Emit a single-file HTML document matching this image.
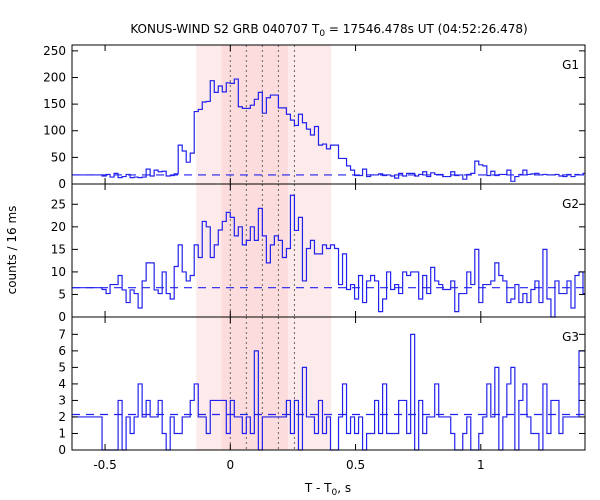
<!DOCTYPE html>
<html><head><meta charset="utf-8"><style>
body{margin:0;background:#fff}
svg{display:block;font-family:"DejaVu Sans","Liberation Sans",sans-serif;font-size:12px}
</style></head><body>
<svg id="chart" width="600" height="500" viewBox="0 0 600 500" xmlns="http://www.w3.org/2000/svg">
<text x="329" y="33" text-anchor="middle">KONUS-WIND S2 GRB 040707 T<tspan font-size="9" dy="3">0</tspan><tspan dy="-3"> = 17546.478s UT (04:52:26.478)</tspan></text>
<text transform="translate(16,250) rotate(-90)" text-anchor="middle">counts / 16 ms</text>
<text x="328" y="492" text-anchor="middle">T - T<tspan font-size="9" dy="3">0</tspan><tspan dy="-3">, s</tspan></text>
<g id="g"></g>
</svg>
<script>
const binStart = -0.512, binWidth = 0.016;
const xTicks = [-0.5, 0, 0.5, 1];
const xTickLabels = ['-0.5', '0', '0.5', '1'];
const dottedTimes = [0, 0.064, 0.128, 0.192, 0.256];
const shadeOuter = [-0.136, 0.403];
const shadeInner = [-0.035, 0.23];
const g1Counts = [15,18,13,20,12,14,18,12,13,12,13,28,15,26,23,24,15,16,19,73,62,41,58,136,140,154,155,194,172,184,173,190,189,197,145,142,142,148,159,172,133,162,167,167,143,143,131,120,110,131,115,103,92,108,73,75,66,
73,73,48,48,34,26,16,16,28,14,17,17,19,16,17,15,11,20,15,20,20,15,18,23,14,21,18,18,14,14,23,16,17,9,18,20,43,36,34,16,24,16,18,18,26,5,14,18,26,18,19,20,17,18,17,17,18,15,14,18,14,18,17,20];
const g2Counts = [6.1,5.2,7.2,7.2,9.2,6,3.2,6,5.2,2,8,12,12,6,5.2,10,5.2,4,11.2,16,10,8,9.2,16,13.2,21.2,20,13.2,16,19.3,21.2,23.2,22.1,18,20,16,17,20,17,24.1,18,12,16,18,17,13.2,15.2,27,19.2,22.1,8,15.2,17,14,14,16,15.2,
16,15.2,7.2,14,6.1,7.2,4,9.2,3.2,8,9.2,8,1.2,4,10,6.1,7.2,5.2,10,9.2,10,10,4,9.2,5.2,11,8,7.2,6.1,6.1,8,1.2,5.2,5.2,10,7.2,15,3.2,7.2,7.2,8,12,9.2,8,3.2,4,7.2,3.2,5.2,3.2,6.1,8,3.2,15,4,0,8,5.2,5.2,8,2,9.2,10,5.2];
const g3Counts = [0,0,0,0,3,0,2,1,2,4,2,3,2,2,3,1,0,2,1,1,2,2,3,4,2,2,1,3,3,3,3,1,3,2,2,1,2,1,6,0,2,2,2,2,2,2,3,1,3,0,5,2,2,1,3,1,2,
0,0,2,4,1,2,1,2,0,1,1,3,1,4,1,1,1,3,3,1,7,0,3,1,2,2,4,2,2,2,1,0,0,1,2,0,0,1,2,4,2,5,0,2,4,5,0,3,4,2,1,1,0,4,1,3,3,1,2,2,2,2,6];
const preLevels = [17, 6.5, 2];
const bgLevels = [17, 6.5, 2.15];
const yTicks = [[0,50,100,150,200,250],[0,5,10,15,20,25],[0,1,2,3,4,5,6,7]];
const yMax = [261, 29.5, 8.05];
const panelNames = ['G1','G2','G3'];

const NS='http://www.w3.org/2000/svg';
const root=document.getElementById('g');
const L=72,R=585;
const tMin=-0.632,tMax=1.416;
const X=t=>L+(t-tMin)/(tMax-tMin)*(R-L);
const panels=[[45,184],[184,317],[317,450]];
function mk(tag,attrs,parent){const e=document.createElementNS(NS,tag);for(const k in attrs)e.setAttribute(k,attrs[k]);(parent||root).appendChild(e);return e;}

let s=mk('rect',{x:X(shadeOuter[0]),y:45,width:X(shadeOuter[1])-X(shadeOuter[0]),height:405,fill:'#fdeaea'});


s=mk('rect',{x:X(shadeInner[0]),y:45,width:X(shadeInner[1])-X(shadeInner[0]),height:405,fill:'#fcdcdc'});



const series=[g1Counts,g2Counts,g3Counts];
panels.forEach((p,i)=>{
  const [top,bot]=p;
  const Y=v=>bot-v/yMax[i]*(bot-top);
  const grp=mk('g',{});
  
  
  dottedTimes.forEach(t=>{
    const d=mk('line',{x1:X(t),x2:X(t),y1:top,y2:bot,stroke:'#666','stroke-dasharray':'2,3','stroke-width':1},grp);
    
    
  });
  const bl=mk('line',{x1:L,x2:R,y1:Y(bgLevels[i]),y2:Y(bgLevels[i]),stroke:'#2222ee','stroke-dasharray':'8,6','stroke-width':1.2},grp);
  
  
  const data=series[i];
  let d='M'+L+','+Y(preLevels[i])+' H'+X(binStart);
  data.forEach((v,k)=>{
    const x1=Math.min(R,X(binStart+(k+1)*binWidth));
    d+=' V'+Y(v)+' H'+x1;
  });
  const last=X(binStart+data.length*binWidth);
  if(last<R) d+=' H'+R;
  const pth=mk('path',{d:d,fill:'none',stroke:'#2222ee','stroke-width':1.2},grp);
  
  
  const fr=mk('rect',{x:L,y:top,width:R-L,height:bot-top,fill:'none',stroke:'#000','stroke-width':1},grp);
  
  
  yTicks[i].forEach(v=>{
    const y=Y(v);
    mk('line',{x1:L,x2:L+6,y1:y,y2:y,stroke:'#000'},grp);
    mk('line',{x1:R-6,x2:R,y1:y,y2:y,stroke:'#000'},grp);
    const tl=mk('text',{x:L-6,y:y+4,'text-anchor':'end'},grp);
    tl.textContent=v;
    
    
  });
  xTicks.forEach(t=>{
    mk('line',{x1:X(t),x2:X(t),y1:top,y2:top+6,stroke:'#000'},grp);
    mk('line',{x1:X(t),x2:X(t),y1:bot-6,y2:bot,stroke:'#000'},grp);
  });
  const pl=mk('text',{x:579,y:top+24,'text-anchor':'end'},grp);
  pl.textContent=panelNames[i];
  
  
});
xTicks.forEach((t,j)=>{
  const tl=mk('text',{x:X(t),y:469,'text-anchor':'middle'});
  tl.textContent=xTickLabels[j];
  
  
});
</script>
</body></html>
